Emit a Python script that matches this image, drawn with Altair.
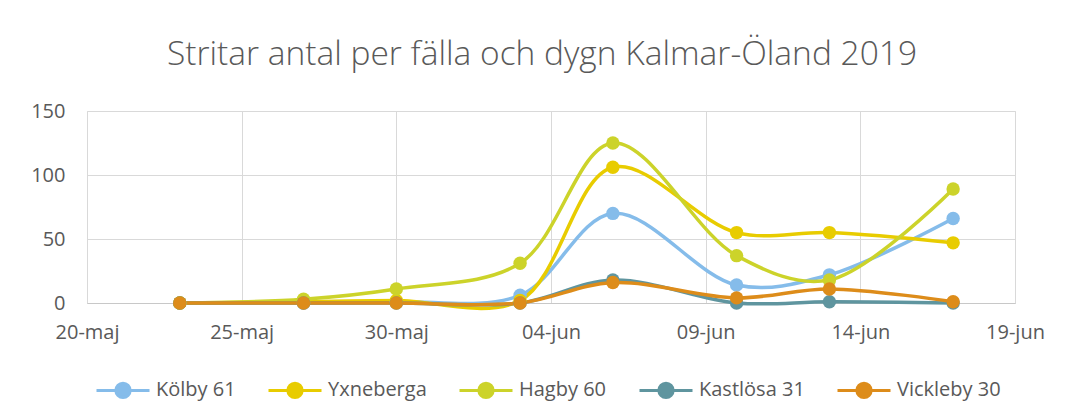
import altair as alt
import pandas as pd

# Sampling dates (x) and catches per trap and day (y)
dates = ["2019-05-23", "2019-05-27", "2019-05-30", "2019-06-03",
         "2019-06-06", "2019-06-10", "2019-06-13", "2019-06-17"]
series = ["Kölby 61", "Yxneberga", "Hagby 60", "Kastlösa 31", "Vickleby 30"]
kolby = [0, 0, 1, 6, 70, 14, 22, 66]
yxneberga = [0, 1, 2, 2, 106, 55, 55, 47]
hagby = [0, 3, 11, 31, 125, 37, 18, 89]
kastlosa = [0, 0, 0, 0, 18, 0, 1, 0]
vickleby = [0, 0, 0, 0, 16, 4, 11, 1]
colors = ["#85BCEA", "#E8CC00", "#CCD32A", "#5F959F", "#DD8C1A"]

title_text = "Stritar antal per fälla och dygn Kalmar-Öland 2019"
y_ticks = [0, 50, 100, 150]
x_tick_days = [(5, 20), (5, 25), (5, 30), (6, 4), (6, 9), (6, 14), (6, 19)]

rows = []
for name, vals in zip(series, [kolby, yxneberga, hagby, kastlosa, vickleby]):
    for d, v in zip(dates, vals):
        rows.append({"Datum": d, "Serie": name, "Antal": v})
df = pd.DataFrame(rows)

FONT = "Open Sans"
TXT = "#595959"
GRID = "#D9D9D9"
LEG_PATH = ("M-1,0L1,0M-0.27,0A0.27,0.27,0,1,1,0.27,0"
            "A0.27,0.27,0,1,1,-0.27,0Z")

tick_vals = [alt.DateTime(year=2019, month=m, date=d, utc=True) for m, d in x_tick_days]
x_dom = [tick_vals[0], tick_vals[-1]]

x_enc = alt.X(
    "Datum:T",
    scale=alt.Scale(type="utc", domain=x_dom),
    axis=alt.Axis(
        values=tick_vals,
        labelExpr="utcFormat(datum.value, '%d') + '-' + (utcFormat(datum.value, '%m') == '05' ? 'maj' : 'jun')",
        title=None, ticks=False, grid=True, gridColor=GRID,
        domainColor="#C8C8C8", domainWidth=1.2,
        labelFont=FONT, labelFontSize=20, labelColor=TXT, labelPadding=19,
        labelFlush=False, labelOverlap=False,
    ),
)
y_enc = alt.Y(
    "Antal:Q",
    scale=alt.Scale(domain=[0, 150], nice=False),
    axis=alt.Axis(
        values=y_ticks, title=None, ticks=False, domain=False,
        grid=True, gridColor=GRID,
        labelFont=FONT, labelFontSize=20, labelColor=TXT, labelPadding=22,
    ),
)
color_enc = alt.Color(
    "Serie:N",
    sort=series,
    scale=alt.Scale(domain=series, range=colors),
    legend=alt.Legend(
        orient="none", legendX=8, legendY=251, direction="horizontal",
        columns=5, title=None, symbolType=LEG_PATH, symbolSize=2809,
        symbolStrokeWidth=3, labelFont=FONT, labelFontSize=20,
        labelColor=TXT, columnPadding=26, labelOffset=5,
        symbolOpacity=1,
    ),
)

base = alt.Chart(df)
lines = base.mark_line(interpolate="catmull-rom", strokeWidth=3.5).encode(
    x=x_enc, y=y_enc, color=color_enc, detail="Serie:N"
)
points = base.mark_point(filled=True, size=180, opacity=1).encode(
    x=x_enc, y=y_enc, color=color_enc
)

chart = alt.layer(lines, points).properties(
    width=928, height=192,
    title=alt.Title(title_text, font=FONT, fontSize=33.5, color=TXT,
                    fontWeight=300, offset=29, dx=-9, anchor="middle"),
    autosize=alt.AutoSizeParams(type="none"),
    padding={"left": 79, "top": 103, "right": 40, "bottom": 100},
).configure_view(stroke=None).configure(background="white")

chart.save("out.html", embed_options={"renderer": "svg", "actions": False})
